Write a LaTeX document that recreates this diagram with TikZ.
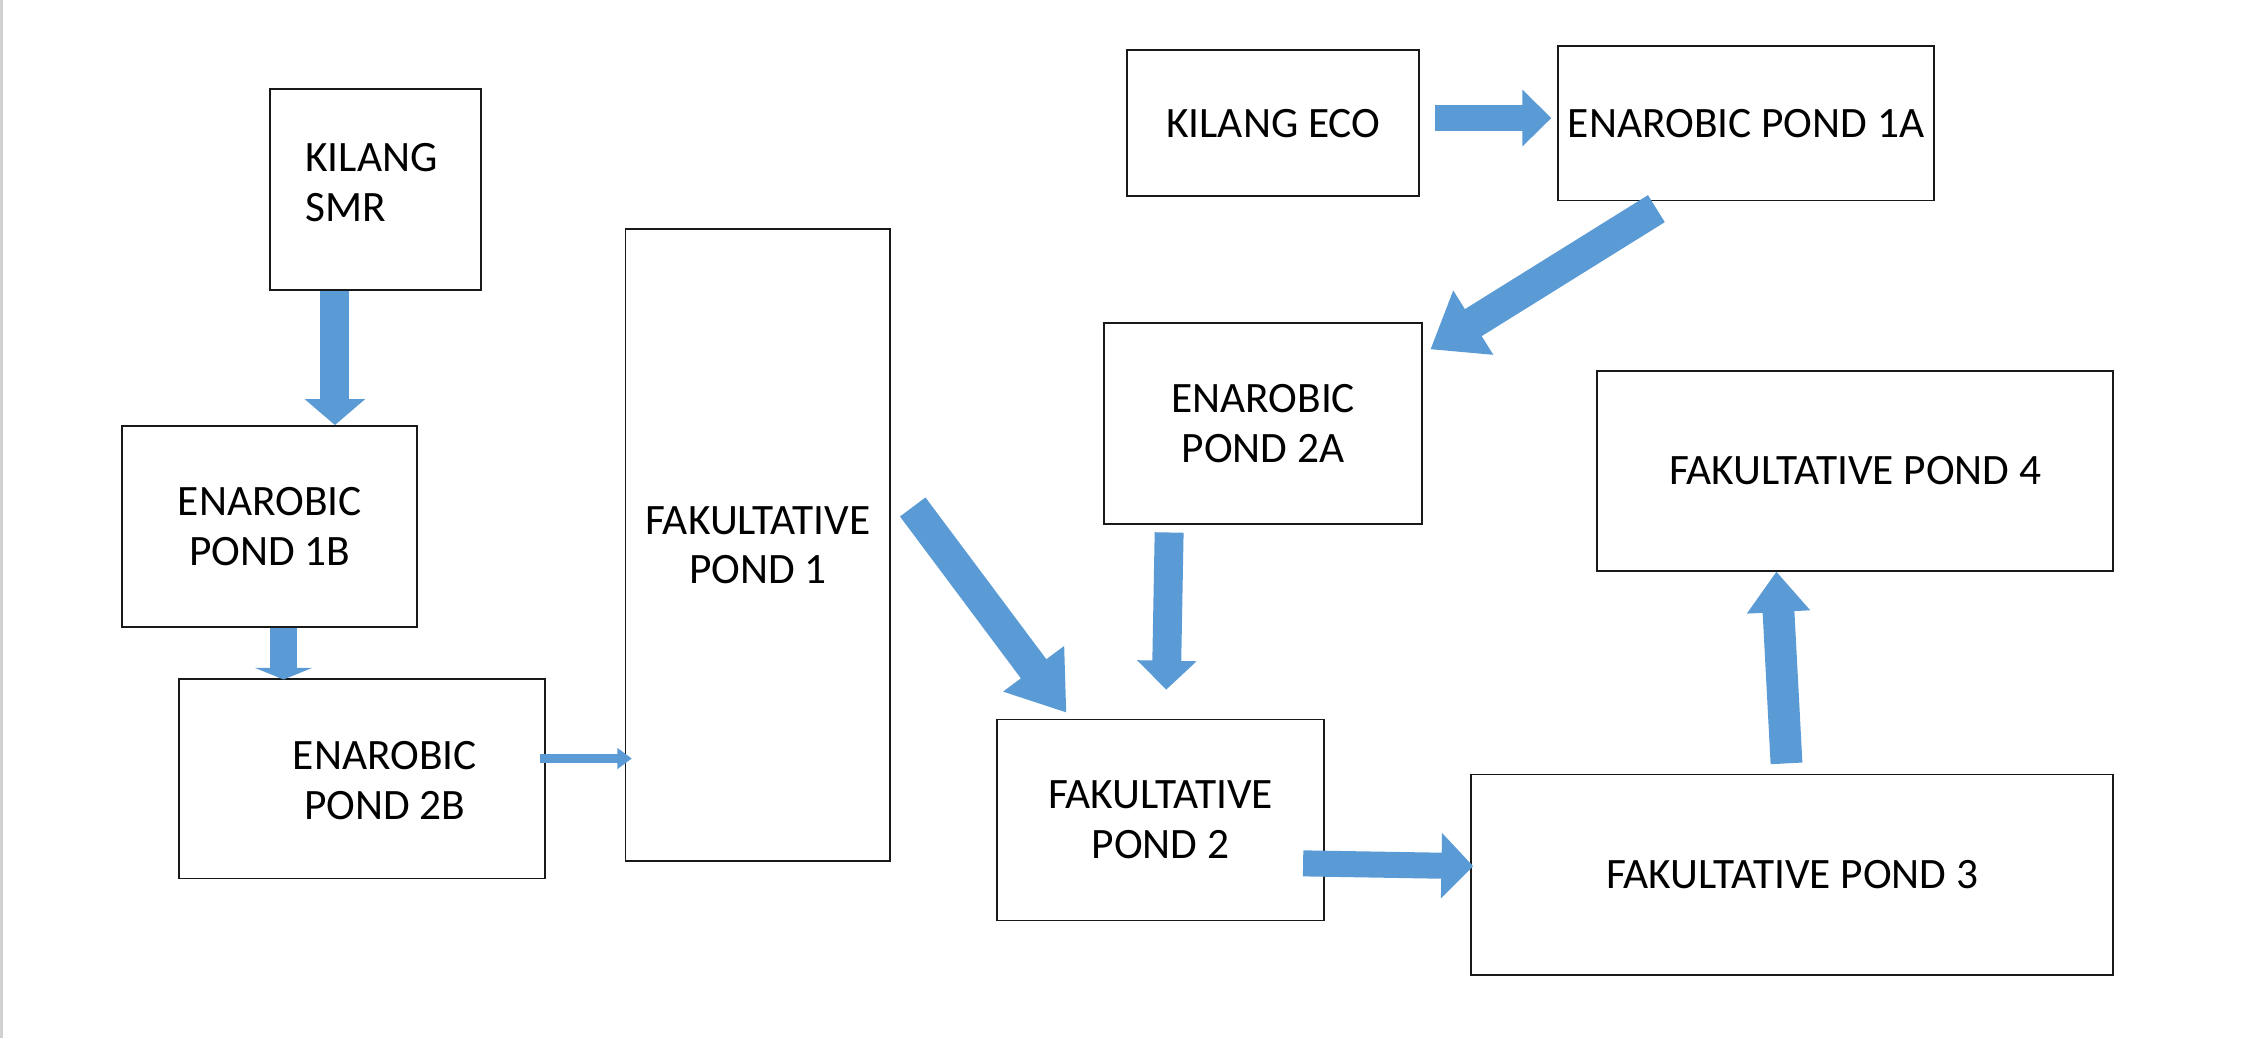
\documentclass[tikz,border=0pt]{standalone}
\usepackage{fontspec}
\setmainfont{Carlito}
\usetikzlibrary{arrows.meta,calc}
\definecolor{arrblue}{RGB}{91,155,213}
\begin{document}
\begin{tikzpicture}[x=1pt,y=-1pt,
  txt/.style={inner sep=0pt, align=center, font=\fontsize{30}{34.5}\selectfont},
  box/.style={draw=black!90, line width=1.3pt, anchor=north west, inner sep=0pt, align=center, font=\fontsize{30}{34.5}\selectfont},
  blk/.style n args={3}{draw=arrblue, line width=#1, -{Triangle[width=#2,length=#3]}}]
\useasboundingbox (0,0) rectangle (1568,718);
\fill[white] (0,0) rectangle (1568,718);
\draw[black!18, line width=2pt] (1,0) -- (1,718);

\node[box, minimum width=146pt, minimum height=139pt] (smr) at (186,61) {};
\node[txt, anchor=west, align=left] (smrt) at ($(smr.west)+(25,-5)$) {KILANG\\SMR};
\node[box, minimum width=204pt, minimum height=139pt] (b1) at (84,294) {ENAROBIC\\POND 1B};
\node[box, minimum width=253pt, minimum height=138pt] (b2) at (123,469) {};
\node[txt] (b2t) at ($(b2.center)+(16,1)$) {ENAROBIC\\POND 2B};
\node[box, minimum width=183pt, minimum height=437pt] (f1) at (432,158) {FAKULTATIVE\\POND 1};
\node[box, minimum width=202pt, minimum height=101pt] (eco) at (779,34) {KILANG ECO};
\node[box, minimum width=260pt, minimum height=107pt] (a1) at (1077,31) {ENAROBIC POND 1A};
\node[box, minimum width=220pt, minimum height=139pt] (a2) at (763,223) {ENAROBIC\\POND 2A};
\node[box, minimum width=357pt, minimum height=138pt] (f4) at (1104,256) {FAKULTATIVE POND 4};
\node[box, minimum width=226pt, minimum height=139pt] (f2) at (689,497) {FAKULTATIVE\\POND 2};
\node[box, minimum width=444pt, minimum height=139pt] (f3) at (1017,535) {FAKULTATIVE POND 3};

\draw[blk={20pt}{41pt}{18pt}] ($(smr.south)+(-28,0)$) -- ($(b1.north)+(45,0)$);
\draw[blk={19pt}{39pt}{8pt}] ($(b1.south)+(9.5,0)$) -- ($(b2.north)+(-54,1)$);
\draw[blk={6pt}{14pt}{10pt}] ($(b2.east)+(-4,-14)$) -- ($(f1.west)+(5,147.5)$);
\draw[blk={22pt}{50pt}{38pt}] ($(f1.east)+(15,-26.5)$) -- ($(f2.north)+(-65,-4)$);
\draw[blk={20pt}{40pt}{20pt}] ($(a2.south)+(-65,5)$) -- ($(f2.north)+(4,-20)$);
\draw[blk={18pt}{44pt}{22pt}] ($(f2.east)+(-15,30)$) -- ($(f3.west)+(2,-6)$);
\draw[blk={22pt}{42pt}{28pt}] ($(f3.north)+(-4,-7)$) -- ($(f4.south)+(-54.5,0)$);
\draw[blk={18pt}{38pt}{20pt}] ($(eco.east)+(10,-3.5)$) -- ($(a1.west)+(-4,-3.5)$);
\draw[blk={22pt}{50pt}{35pt}] ($(a1.south)+(-62,5)$) -- ($(a2.east)+(5,-51.5)$);
\end{tikzpicture}
\end{document}
